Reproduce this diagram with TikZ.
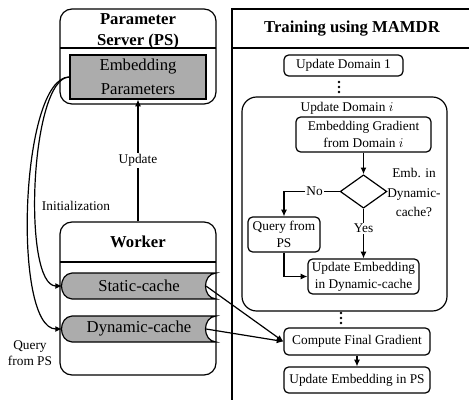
\documentclass[tikz,border=0pt]{standalone}
\usepackage{fontspec}
\setmainfont{Liberation Serif}
\usepackage{amsmath}
\usetikzlibrary{arrows.meta,shapes.geometric,fit}
\definecolor{cachegray}{RGB}{172,172,172}

\begin{document}
\begin{tikzpicture}[x=0.75pt,y=-0.75pt,line width=0.9pt,>={Latex[length=5pt,width=4.5pt]},
  box/.style={draw,rounded corners=3.5pt,inner sep=0pt,align=center,font=\fontsize{10}{12.8}\selectfont},
  lbl/.style={font=\fontsize{10}{12}\selectfont,align=center},
  big/.style={font=\fontsize{12.5}{18}\selectfont,align=center},
  hd/.style={font=\bfseries\fontsize{12.5}{15.5}\selectfont,align=center}]
  \useasboundingbox (0,0) rectangle (469,400);
  % parameter server
  \node [draw,rounded corners=9pt,inner sep=0pt,fit={(60,9) (216,104)}] (ps) {};
  \node [hd] at (138,31) {Parameter\\Server (PS)};
  \draw (60,48) -- (216,48);
  \node [draw,fill=cachegray,inner sep=0pt,big,minimum width=102pt,minimum height=33pt] (ep) at (138,77) {Embedding\\Parameters};
  % worker
  \node [draw,rounded corners=9pt,inner sep=0pt,fit={(60,222) (216,375)}] (wk) {};
  \node [hd] at (138,242) {Worker};
  \draw (60,262) -- (216,262);
  \foreach \n/\t/\y in {sc/Static-cache/286,dc/Dynamic-cache/329}{
    \draw [fill=cachegray] (72,\y-13) -- (216,\y-13) .. controls (202,\y-12) and (202,\y+12) .. (216,\y+13)
      -- (72,\y+13) .. controls (58,\y+12) and (58,\y-12) .. (72,\y-13) -- cycle;
    \node [big] (\n) at (139,\y) {\t};
    \coordinate (\n-in) at (62,\y);
    \coordinate (\n-out) at (206,\y);
  }
  \draw [->] (ep.west) .. controls (30,77) and (22,286) .. (sc-in);
  \draw [->] (ep.west) .. controls (20,77) and (12,329) .. (dc-in);
  \node [lbl] at (76,206) {Initialization};
  \node [lbl] at (30,353) {Query\\from PS};
  \draw [->] (wk.north) -- node [lbl,fill=white,inner sep=1pt] {Update} (ep.south);
  % training panel
  \draw (232,405) -- (232,9) -- (475,9);
  \draw (232,48) -- (475,48);
  \node [hd] at (352,29) {Training using MAMDR};
  \node [box,minimum width=89.25pt,minimum height=15.75pt] (d1) at (343.5,65.5) {Update Domain 1};
  \foreach \y in {82,87,92} \fill (339,\y) circle(1.4);
  \node [draw,rounded corners=11pt,inner sep=0pt,fit={(242,97) (447,311)}] (di) {};
  \node [lbl] at (347,108) {Update Domain $i$};
  \node [box,minimum width=101.25pt,minimum height=26.25pt] (eg) at (363.5,134.5) {Embedding Gradient\\from Domain $i$};
  \node [draw,diamond,inner sep=0pt,minimum width=35pt,minimum height=25pt] (dm) at (363.5,191.5) {};
  \node [lbl,font=\fontsize{10}{14.6}\selectfont] at (414,192.5) {Emb. in\\Dynamic-\\cache?};
  \node [box,minimum width=54pt,minimum height=26.25pt] (qp) at (284,234.5) {Query from\\PS};
  \node [box,minimum width=83.25pt,minimum height=26.25pt] (ue) at (363.5,276.5) {Update Embedding\\in Dynamic-cache};
  \draw [->] (eg) -- (dm);
  \draw [->] (dm.west) -- node [lbl,fill=white,inner sep=1pt,pos=0.45] {No} (qp.north |- dm.west) -- (qp.north);
  \draw [->] (dm.south) -- node [lbl,fill=white,inner sep=1pt,pos=0.4] {Yes} (ue.north);
  \draw [->] (qp.south) |- (ue.west);
  \foreach \y in {313,318,323} \fill (341,\y) circle(1.4);
  \node [box,minimum width=109.5pt,minimum height=20.25pt] (cf) at (357,341.5) {Compute Final Gradient};
  \node [box,minimum width=109.5pt,minimum height=19.5pt] (up) at (357,380) {Update Embedding in PS};
  \draw [->] (cf) -- (up);
  \draw [->] (sc-out) -- (cf.west);
  \draw [->] (dc-out) -- (cf.west);
\end{tikzpicture}
\end{document}
